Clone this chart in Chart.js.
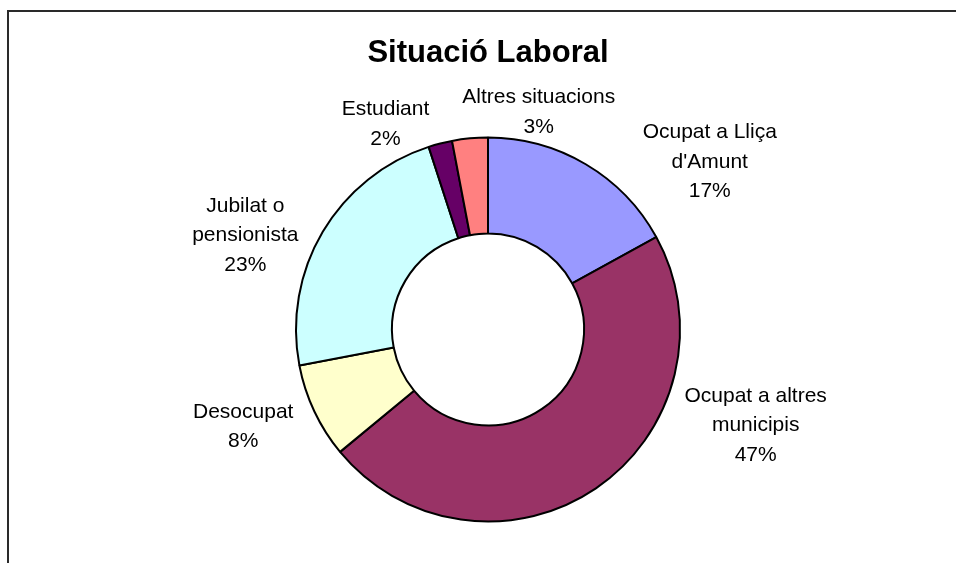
<!DOCTYPE html>
<html>
<head>
<meta charset="utf-8">
<title>Situació Laboral</title>
<script src="https://cdn.jsdelivr.net/npm/chart.js@4/dist/chart.umd.min.js"></script>
<style>
    html, body { margin: 0; padding: 0; background: #fff; }
    #wrap { position: relative; width: 956px; height: 563px; }
</style>
</head>
<body>
<div id="wrap"><canvas id="laboralChart" width="956" height="563"></canvas></div>
<script>
/* =======================
   DATA
======================= */
const categories = [
    ["Ocupat a Lliça", "d'Amunt"],
    ["Ocupat a altres", "municipis"],
    ["Desocupat"],
    ["Jubilat o", "pensionista"],
    ["Estudiant"],
    ["Altres situacions"]
];
const percentages = [17, 47, 8, 23, 2, 3];
const sliceColours = ["#9999FF", "#993366", "#FFFFCC", "#CCFFFF", "#660066", "#FF8080"];

// where each label block sits, in units of the outer radius from the centre
const labelSpots = [
    [1.155, -0.873],
    [1.394, 0.500],
    [-1.275, 0.505],
    [-1.264, -0.490],
    [-0.534, -1.070],
    [0.264, -1.132]
];

/* =======================
   PLUGINS
======================= */
// outer frame (only the left and top edges fall inside the window)
const framePlugin = {
    id: "frame",
    beforeDraw(chart) {
        const ctx = chart.ctx;
        ctx.save();
        ctx.fillStyle = "#fff";
        ctx.fillRect(0, 0, chart.width, chart.height);
        ctx.strokeStyle = "#2a2a2a";
        ctx.lineWidth = 2;
        ctx.beginPath();
        ctx.moveTo(8, chart.height + 5);
        ctx.lineTo(8, 11);
        ctx.lineTo(chart.width + 5, 11);
        ctx.stroke();
        ctx.restore();
    }
};

// category name + percentage outside each slice
const sliceLabels = {
    id: "sliceLabels",
    afterDatasetsDraw(chart) {
        const ctx = chart.ctx;
        const arcs = chart.getDatasetMeta(0).data;
        const lineH = 29.5;
        ctx.save();
        ctx.font = "21px 'Liberation Sans', Arial, sans-serif";
        ctx.fillStyle = "#000";
        ctx.textAlign = "center";
        ctx.textBaseline = "middle";
        arcs.forEach((arc, i) => {
            const r = arc.outerRadius;
            const cx = arc.x + labelSpots[i][0] * r;
            const cy = arc.y + labelSpots[i][1] * r;
            const lines = categories[i].concat([percentages[i] + "%"]);
            const top = cy - (lines.length - 1) * lineH / 2;
            lines.forEach((txt, j) => ctx.fillText(txt, cx, top + j * lineH));
        });
        ctx.restore();
    }
};

/* =======================
   CHART
======================= */
new Chart(document.getElementById("laboralChart"), {
    type: "doughnut",
    data: {
        labels: categories.map(c => c.join(" ")),
        datasets: [{
            data: percentages,
            backgroundColor: sliceColours,
            borderColor: "#000",
            borderWidth: 2,
            hoverOffset: 0
        }]
    },
    options: {
        responsive: false,
        animation: false,
        cutout: "50%",
        layout: {
            padding: { left: 295, right: 275, top: 10, bottom: 40.5 }
        },
        plugins: {
            legend: { display: false },
            tooltip: { enabled: false },
            title: {
                display: true,
                text: "Situació Laboral",
                color: "#000",
                font: { family: "'Liberation Sans', Arial, sans-serif", size: 31, weight: "bold", lineHeight: 1.2 },
                padding: { top: 24.4, bottom: 64.9 }
            }
        }
    },
    plugins: [framePlugin, sliceLabels]
});
</script>
</body>
</html>
